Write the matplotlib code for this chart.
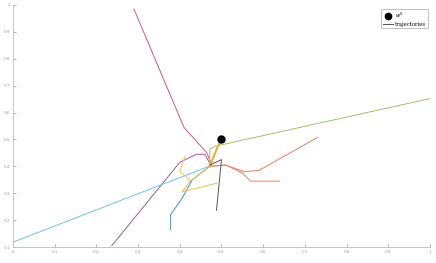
import matplotlib
matplotlib.use("Agg")
from matplotlib import pyplot as plt
import numpy as np

# start point
w0 = (0.5, 0.5)

# trajectories
pink_x = [0.29, 0.41, 0.465, 0.475]
pink_y = [0.985, 0.545, 0.45, 0.41]
purple_x = [0.237, 0.40, 0.44, 0.46, 0.474]
purple_y = [0.105, 0.415, 0.445, 0.445, 0.405]
lblue_x = [0.0, 0.47]
lblue_y = [0.118, 0.40]
green_x = [0.472, 0.472, 0.485, 0.50, 1.0]
green_y = [0.41, 0.465, 0.475, 0.48, 0.652]
black_x = [0.472, 0.50, 0.488]
black_y = [0.405, 0.425, 0.237]
orange1_x = [0.472, 0.51, 0.555, 0.59, 0.73]
orange1_y = [0.40, 0.405, 0.38, 0.385, 0.507]
orange2_x = [0.472, 0.51, 0.55, 0.57, 0.64]
orange2_y = [0.40, 0.405, 0.375, 0.345, 0.345]
blue_x = [0.472, 0.43, 0.405, 0.378, 0.378]
blue_y = [0.40, 0.35, 0.28, 0.22, 0.165]
yellow1_x = [0.5, 0.49, 0.472]
yellow1_y = [0.5, 0.47, 0.40]
yellow2_x = [0.472, 0.425, 0.405, 0.49]
yellow2_y = [0.40, 0.345, 0.305, 0.338]
yellow3_x = [0.412, 0.40, 0.42, 0.425]
yellow3_y = [0.437, 0.38, 0.355, 0.345]

fig = plt.figure(figsize=(4.36, 2.63), dpi=100)
ax = fig.add_axes([0.0298, 0.0608, 0.9564, 0.9202])

lw = 0.7
ax.plot(pink_x, pink_y, color="#c8588a", lw=lw)
ax.plot(purple_x, purple_y, color="#9a5aa8", lw=lw)
ax.plot(lblue_x, lblue_y, color="#6ec3ea", lw=lw)
ax.plot(green_x, green_y, color="#9cc26a", lw=lw)
ax.plot(orange1_x, orange1_y, color="#e8825c", lw=lw)
ax.plot(orange2_x, orange2_y, color="#e8825c", lw=lw)
ax.plot(blue_x, blue_y, color="#4a90c8", lw=lw)
ax.plot(yellow2_x, yellow2_y, color="#f0c050", lw=lw)
ax.plot(yellow3_x, yellow3_y, color="#f0c050", lw=lw)
ax.plot(yellow1_x, yellow1_y, color="#eeb030", lw=1.5)
ax.plot(black_x, black_y, color="#555555", lw=lw, label="trajectories")
ax.plot([w0[0]], [w0[1]], "o", color="black", ms=5, label="$w^0$")

ax.set_xlim(0, 1)
ax.set_ylim(0.1, 1)
ax.set_xticks(np.arange(0, 1.01, 0.1))
ax.set_yticks(np.arange(0.1, 1.01, 0.1))
ax.set_xticklabels(["0", "0.1", "0.2", "0.3", "0.4", "0.5", "0.6", "0.7", "0.8", "0.9", "1"])
ax.set_yticklabels(["0.1", "0.2", "0.3", "0.4", "0.5", "0.6", "0.7", "0.8", "0.9", "1"])
ax.tick_params(direction="in", length=2, width=0.5, labelsize=3, colors="#999999", pad=2)
for s in ["top", "right"]:
    ax.spines[s].set_visible(False)
for s in ["left", "bottom"]:
    ax.spines[s].set_color("#bbbbbb")
    ax.spines[s].set_linewidth(0.6)

h, l = ax.get_legend_handles_labels()
leg = ax.legend(h[::-1], l[::-1], loc="upper right", prop={"family": "DejaVu Serif", "size": 3.8},
                fancybox=False, edgecolor="#aaaaaa", framealpha=1, handlelength=2.0, borderpad=0.35,
                labelspacing=0.25, handletextpad=0.3, borderaxespad=0, markerscale=0.9,
                bbox_to_anchor=(0.995, 0.983))
leg.get_frame().set_linewidth(0.5)

fig.savefig("out.png", dpi=100)
